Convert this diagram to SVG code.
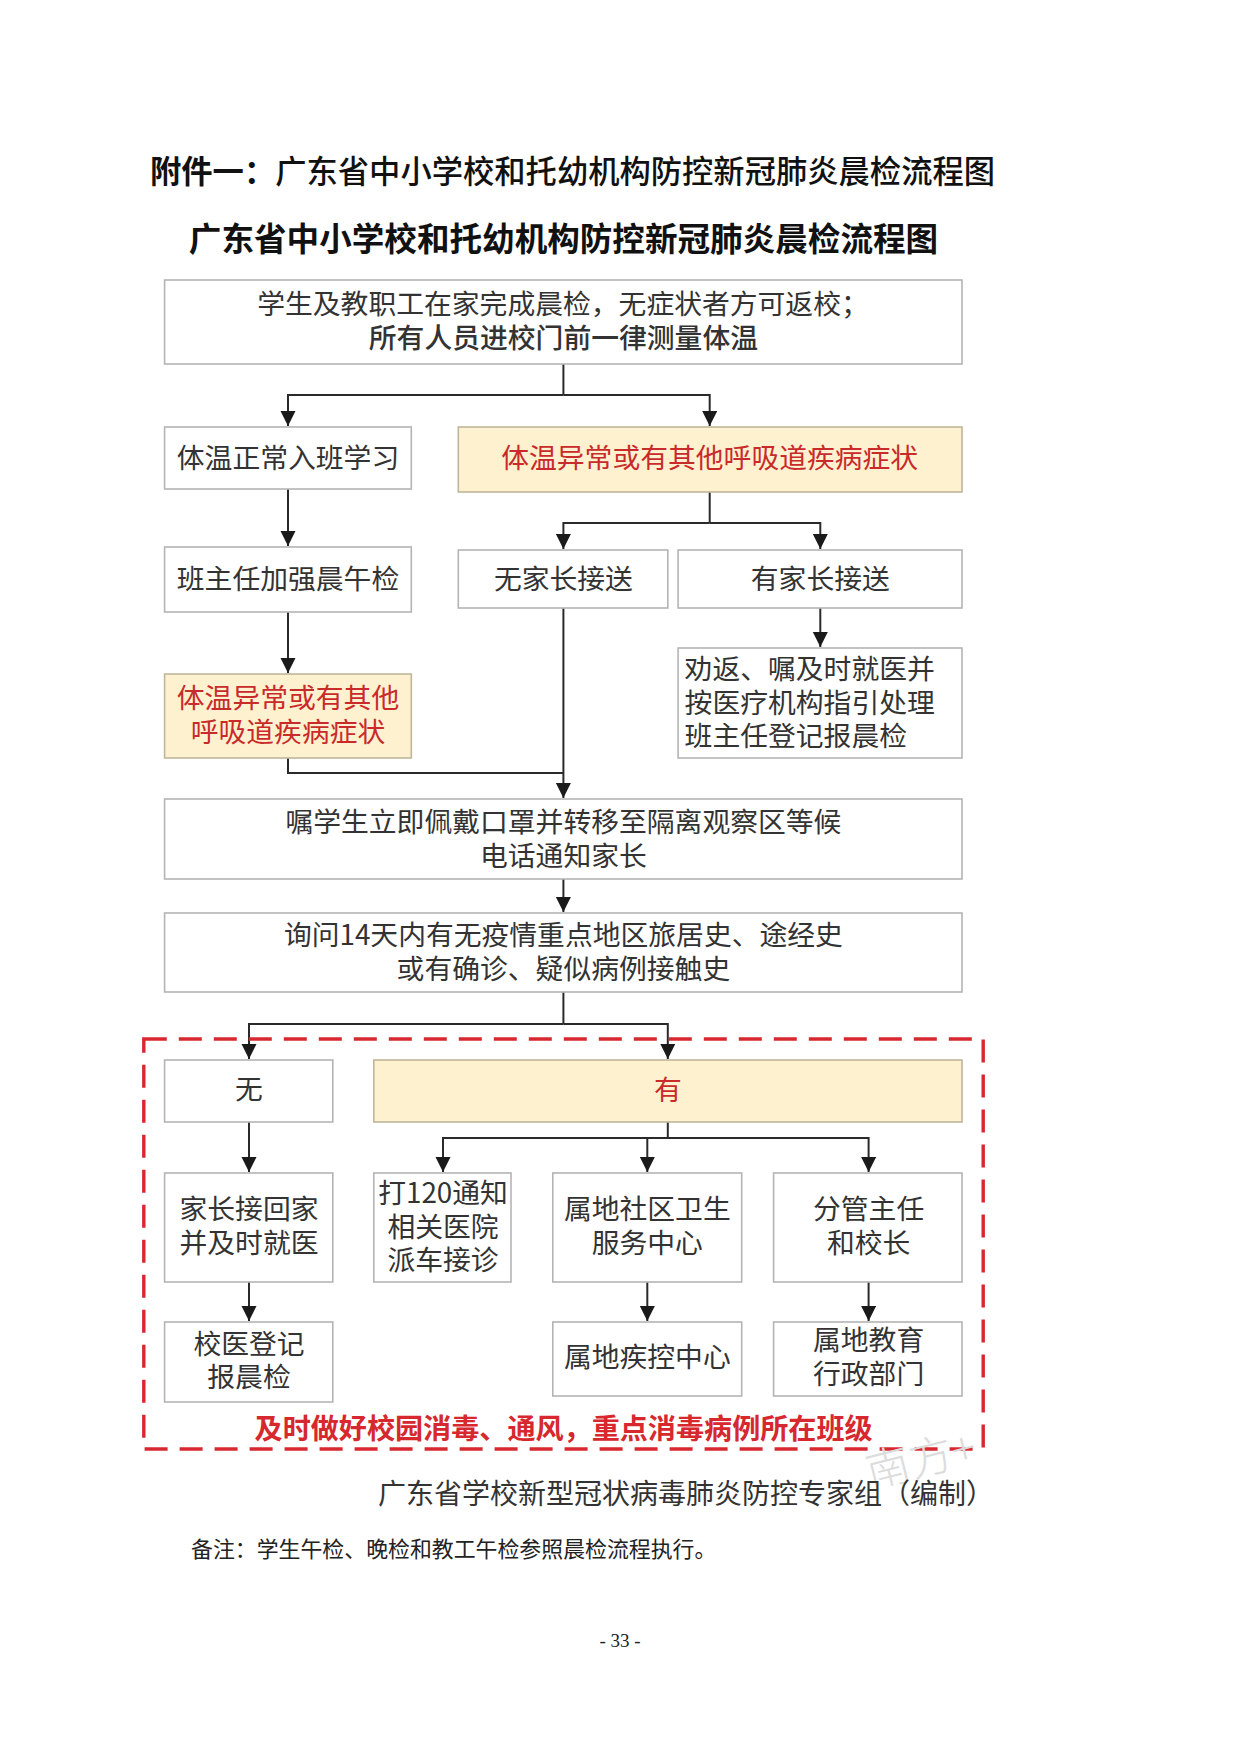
<svg xmlns="http://www.w3.org/2000/svg" width="1239" height="1753" viewBox="0 0 1239 1753">
<defs>
<marker id="tip" markerUnits="userSpaceOnUse" markerWidth="16" markerHeight="16" refX="15" refY="7.5" orient="auto"><path d="M0,0 L15,7.5 L0,15 Z" fill="#1a1a1a"/></marker>
</defs>
<style>
text{font-family:"Noto Sans CJK SC","Noto Sans",sans-serif;fill:#333;font-size:27.8px;text-anchor:middle;dominant-baseline:central}
.s{text-anchor:start}
.b{fill:#fff;stroke:#b4b4b4;stroke-width:1.6}
.y{fill:#fdf1d0;stroke:#bfb79a;stroke-width:1.6}
.r{fill:#c92a2a}
.c{fill:none;stroke:#2a2a2a;stroke-width:2}
.a{marker-end:url(#tip)}
</style>
<rect width="1239" height="1753" fill="#fff"/>
<g id="page-title"><text class="s" x="150" y="169" style="font-size:31.3px;fill:#111;font-weight:700">附件一：<tspan font-weight="500">广东省中小学校和托幼机构防控新冠肺炎晨检流程图</tspan></text></g>
<g id="chart-title"><text x="563.5" y="236" style="font-size:32.6px;fill:#111;font-weight:700">广东省中小学校和托幼机构防控新冠肺炎晨检流程图</text></g>
<g id="connectors">
<path class="c" d="M563.4 364V395"/>
<path class="c a" d="M563.4 395H288V426"/>
<path class="c a" d="M563.4 395H709.7V426"/>
<path class="c a" d="M288 489V546"/>
<path class="c a" d="M288 612V673"/>
<path class="c" d="M709.7 492V523"/>
<path class="c a" d="M709.7 523H563.4V549"/>
<path class="c a" d="M709.7 523H820.3V549"/>
<path class="c a" d="M820.3 608V647"/>
<path class="c a" d="M563.4 608V798"/>
<path class="c" d="M288 758V773H563.4"/>
<path class="c a" d="M563.4 879V912"/>
<path class="c" d="M563.4 992V1024"/>
<path class="c a" d="M563.4 1024H249V1059"/>
<path class="c a" d="M563.4 1024H667.8V1059"/>
<path class="c a" d="M249 1122V1172"/>
<path class="c" d="M667.8 1122V1138"/>
<path class="c a" d="M667.8 1138H443V1172"/>
<path class="c a" d="M667.8 1138H647.3V1172"/>
<path class="c a" d="M667.8 1138H868.6V1172"/>
<path class="c a" d="M249 1282V1321"/>
<path class="c a" d="M647.3 1282V1321"/>
<path class="c a" d="M868.6 1282V1321"/>
</g>
<g id="n1"><rect class="b" x="164.6" y="280" width="797.4" height="84"/><text x="563" y="302">学生及教职工在家完成晨检，无症状者方可返校；</text><text x="563.4" y="336" font-weight="500">所有人员进校门前一律测量体温</text></g>
<g id="n2"><rect class="b" x="164.6" y="427" width="246.7" height="62"/><text x="288" y="455.5">体温正常入班学习</text></g>
<g id="n3"><rect class="y" x="458.3" y="427" width="503.7" height="65"/><text class="r" x="709.7" y="456">体温异常或有其他呼吸道疾病症状</text></g>
<g id="n4"><rect class="b" x="164.6" y="547" width="246.7" height="65"/><text x="288" y="576.5">班主任加强晨午检</text></g>
<g id="n5"><rect class="b" x="458.3" y="550" width="209.5" height="58"/><text x="563.4" y="576.5">无家长接送</text></g>
<g id="n6"><rect class="b" x="678.1" y="550" width="283.9" height="58"/><text x="820.3" y="576.5">有家长接送</text></g>
<g id="n7"><rect class="y" x="164.6" y="674" width="246.7" height="84"/><text class="r" x="288" y="695.5">体温异常或有其他</text><text class="r" x="288" y="729.5">呼吸道疾病症状</text></g>
<g id="n8"><rect class="b" x="678.1" y="648" width="283.9" height="110"/><text class="s" x="684.6" y="666.5">劝返、嘱及时就医并</text><text class="s" x="684.6" y="700.5">按医疗机构指引处理</text><text class="s" x="684.6" y="733.5">班主任登记报晨检</text></g>
<g id="n9"><rect class="b" x="164.6" y="799" width="797.4" height="80"/><text x="563.4" y="819.5">嘱学生立即佩戴口罩并转移至隔离观察区等候</text><text x="563.4" y="853.5">电话通知家长</text></g>
<g id="n10"><rect class="b" x="164.6" y="913" width="797.4" height="79"/><text x="563.4" y="932.5">询问14天内有无疫情重点地区旅居史、途经史</text><text x="563.4" y="966.5">或有确诊、疑似病例接触史</text></g>
<g id="n11"><rect class="b" x="164.6" y="1060" width="168.2" height="62"/><text x="249" y="1087">无</text></g>
<g id="n12"><rect class="y" x="373.8" y="1060" width="588.2" height="62"/><text class="r" x="667.8" y="1087.5">有</text></g>
<g id="n13"><rect class="b" x="164.6" y="1173" width="168.2" height="109"/><text x="249" y="1207">家长接回家</text><text x="249" y="1241">并及时就医</text></g>
<g id="n14"><rect class="b" x="373.8" y="1173" width="137.2" height="109"/><text x="443" y="1190.5">打120通知</text><text x="443" y="1224.5">相关医院</text><text x="443" y="1257.5">派车接诊</text></g>
<g id="n15"><rect class="b" x="552.8" y="1173" width="188.9" height="109"/><text x="647.3" y="1207">属地社区卫生</text><text x="647.3" y="1241">服务中心</text></g>
<g id="n16"><rect class="b" x="773.6" y="1173" width="188.4" height="109"/><text x="868.6" y="1207">分管主任</text><text x="868.6" y="1241">和校长</text></g>
<g id="n17"><rect class="b" x="164.6" y="1322" width="168.2" height="80"/><text x="249" y="1341.5">校医登记</text><text x="249" y="1375">报晨检</text></g>
<g id="n18"><rect class="b" x="552.8" y="1322" width="188.9" height="74"/><text x="647.3" y="1355">属地疾控中心</text></g>
<g id="n19"><rect class="b" x="773.6" y="1322" width="188.4" height="74"/><text x="868.6" y="1338">属地教育</text><text x="868.6" y="1372">行政部门</text></g>
<g id="notice"><rect x="143.8" y="1039" width="839.4" height="410" fill="none" stroke="#d6282e" stroke-width="3.4" stroke-dasharray="23 12"/><text x="563.6" y="1426" style="font-weight:700;fill:#d6282e;font-size:28.1px">及时做好校园消毒、通风，重点消毒病例所在班级</text></g>
<g id="watermark"><text class="s" x="866" y="1470" transform="rotate(-14 866 1470)" style="font-size:44px;font-weight:300;fill:#dcdcdc">南方+</text></g>
<g id="footer"><text class="s" x="378" y="1492" style="font-size:28px">广东省学校新型冠状病毒肺炎防控专家组（编制）</text><text class="s" x="191" y="1547" style="font-size:21.9px;fill:#222">备注：学生午检、晚检和教工午检参照晨检流程执行。</text><text x="620" y="1640" style="font-family:'Liberation Serif',serif;font-size:19px;fill:#222">- 33 -</text></g>
</svg>
